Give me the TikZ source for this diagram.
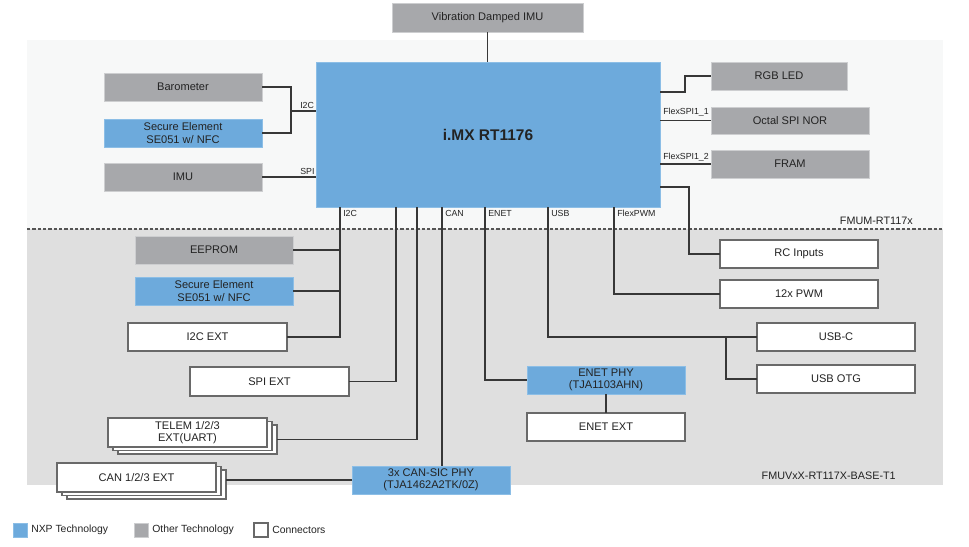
\documentclass[tikz,border=0pt]{standalone}
\usepackage{fontspec}
\setmainfont{Liberation Sans}
\definecolor{nxp}{RGB}{109,170,220}
\definecolor{nxpedge}{RGB}{140,190,230}
\definecolor{oth}{RGB}{167,168,171}
\definecolor{othedge}{RGB}{205,206,208}
\definecolor{cedge}{RGB}{105,105,105}
\definecolor{topbg}{RGB}{247,248,248}
\definecolor{botbg}{RGB}{223,223,223}
\definecolor{wirec}{RGB}{55,55,55}
\definecolor{txt}{RGB}{35,35,35}
% box from pixel corners: style, name, x1, y1, x2, y2, text
\newcommand\pxbox[7]{\node[#1, minimum width={(#5-#3)*0.75pt}, minimum height={(#6-#4)*0.75pt}] (#2) at ({(#3+#5)/2},{(#4+#6)/2}) {#7};}
\begin{document}
\begin{tikzpicture}[x=0.75pt,y=-0.75pt,
  box/.style={draw, inner sep=0pt, outer sep=0pt, align=center, text=txt, font=\fontsize{8.3}{9.4}\selectfont},
  nbox/.style={box, fill=nxp, draw=nxpedge, line width=0.6pt},
  obox/.style={box, fill=oth, draw=othedge, line width=0.6pt},
  cbox/.style={box, fill=white, draw=cedge, line width=0.8pt},
  wire/.style={draw=wirec, line width=0.9pt},
  lab/.style={inner sep=0pt, text=txt, font=\fontsize{6.6}{8}\selectfont},
  reg/.style={inner sep=0pt, text=txt, font=\fontsize{8.1}{9.5}\selectfont},
  leg/.style={inner sep=0pt, text=txt, font=\fontsize{7.8}{9}\selectfont, anchor=west}]
\useasboundingbox (0,0) rectangle (969,546);
% regions
\fill[topbg] (27,40) rectangle (943,229);
\fill[botbg] (27,229) rectangle (943,485);
\draw[wirec!85, line width=0.8pt, dash pattern=on 2.4pt off 1.6pt] (27,229) -- (943,229);
\node[reg, anchor=east] (lbltop) at (913,221) {FMUM-RT117x};
\node[reg, anchor=east] (lblbot) at (896,476) {FMUVxX-RT117X-BASE-T1};
% main chip
\pxbox{nbox, font=\bfseries\fontsize{11.6}{14}\selectfont}{mcu}{316}{62}{660}{207}{i.MX RT1176}
\pxbox{obox}{vib}{392}{3}{583}{32}{Vibration Damped IMU}
% left sensors
\pxbox{obox}{baro}{104}{73}{262}{101}{Barometer}
\pxbox{nbox}{se1}{104}{119}{262}{147}{Secure Element\\SE051 w/ NFC}
\pxbox{obox}{imu}{104}{163}{262}{191}{IMU}
% right top
\pxbox{obox}{rgb}{711}{62}{847}{90}{RGB LED}
\pxbox{obox}{nor}{711}{107}{869}{134}{Octal SPI NOR}
\pxbox{obox}{fram}{711}{150}{869}{178}{FRAM}
% base board
\pxbox{obox}{eeprom}{135}{236}{293}{264}{EEPROM}
\pxbox{nbox}{se2}{135}{277}{293}{305}{Secure Element\\SE051 w/ NFC}
\pxbox{cbox}{i2cext}{128}{323}{287}{351}{I2C EXT}
\pxbox{cbox}{spiext}{190}{367}{349}{396}{SPI EXT}
\pxbox{cbox}{telemc}{118}{425}{277}{454}{}
\pxbox{cbox}{telemb}{113}{421.5}{272}{450.5}{}
\pxbox{cbox}{telem}{108}{418}{267}{447}{TELEM 1/2/3\\EXT(UART)}
\pxbox{cbox}{canc}{67}{470}{226}{499}{}
\pxbox{cbox}{canb}{62}{466.5}{221}{495.5}{}
\pxbox{cbox}{canext}{57}{463}{216}{492}{CAN 1/2/3 EXT}
\pxbox{nbox}{canphy}{352}{466}{510}{494}{3x CAN-SIC PHY\\(TJA1462A2TK/0Z)}
\pxbox{nbox}{enetphy}{527}{366}{685}{394}{ENET PHY\\(TJA1103AHN)}
\pxbox{cbox}{enetext}{527}{413}{685}{441}{ENET EXT}
\pxbox{cbox}{rc}{720}{240}{878}{268}{RC Inputs}
\pxbox{cbox}{pwm}{720}{280}{878}{308}{12x PWM}
\pxbox{cbox}{usbc}{757}{323}{915}{351}{USB-C}
\pxbox{cbox}{usbotg}{757}{365}{915}{393}{USB OTG}
% helper coordinates
\coordinate (xj1) at (291,0);
\coordinate (xI2C) at (340,0);
\coordinate (xSPI) at (396,0);
\coordinate (xTEL) at (417,0);
\coordinate (xCAN) at (442,0);
\coordinate (xENET) at (485,0);
\coordinate (xUSB) at (548,0);
\coordinate (xUJ) at (726,0);
\coordinate (xPWM) at (614,0);
\coordinate (xRC) at (689,0);
\coordinate (xRGB) at (685,0);
\coordinate (yRC) at (0,187);
\coordinate (yRGB) at (0,92);
\coordinate (yI2C) at (0,111);
% wires
\draw[wire] (vib.south) -- (vib.south |- mcu.north);
\draw[wire] (baro.east) -| (xj1 |- yI2C) |- (se1.east);
\draw[wire] (xj1 |- yI2C) -- (mcu.west |- yI2C);
\draw[wire] (imu.east) -- (imu.east -| mcu.west);
\draw[wire] (mcu.east |- yRGB) -| (xRGB |- rgb.west) -- (rgb.west);
\draw[wire] (nor.west -| mcu.east) -- (nor.west);
\draw[wire] (fram.west -| mcu.east) -- (fram.west);
\draw[wire] (mcu.east |- yRC) -| (xRC |- rc.west) -- (rc.west);
\draw[wire] (mcu.south -| xPWM) |- (pwm.west);
\draw[wire] (mcu.south -| xUSB) |- (usbc.west);
\draw[wire] (usbc.west -| xUJ) |- (usbotg.west);
\draw[wire] (mcu.south -| xENET) |- (enetphy.west);
\draw[wire] (enetphy.south) -- (enetext.north);
\draw[wire] (mcu.south -| xCAN) -- (canphy.north -| xCAN);
\draw[wire] (canphy.west) -- (canphy.west -| canc.east);
\draw[wire] (mcu.south -| xTEL) |- (telemc.east);
\draw[wire] (mcu.south -| xSPI) |- (spiext.east);
\draw[wire] (mcu.south -| xI2C) |- (eeprom.east);
\draw[wire] (mcu.south -| xI2C) |- (se2.east);
\draw[wire] (mcu.south -| xI2C) |- (i2cext.east);
% bus labels
\node[lab, anchor=south west] (l1) at (300,109) {I2C};
\node[lab, anchor=south west] (l2) at (300,175) {SPI};
\node[lab, anchor=south west] (l3) at (663,117) {FlexSPI1\_1};
\node[lab, anchor=south west] (l4) at (663,162) {FlexSPI1\_2};
\node[lab, anchor=west] (l5) at (343,213) {I2C};
\node[lab, anchor=west] (l6) at (445,213) {CAN};
\node[lab, anchor=west] (l7) at (488,213) {ENET};
\node[lab, anchor=west] (l8) at (551,213) {USB};
\node[lab, anchor=west] (l9) at (617,213) {FlexPWM};
% legend
\pxbox{nbox}{lgn}{13}{523}{27}{537}{}
\node[leg] (lgnt) at (31,530) {NXP Technology};
\pxbox{obox}{lgo}{134}{523}{148}{537}{}
\node[leg] (lgot) at (152,530) {Other Technology};
\pxbox{cbox}{lgc}{254}{523}{268}{537}{}
\node[leg] (lgct) at (272,530) {Connectors};
\end{tikzpicture}
\end{document}
